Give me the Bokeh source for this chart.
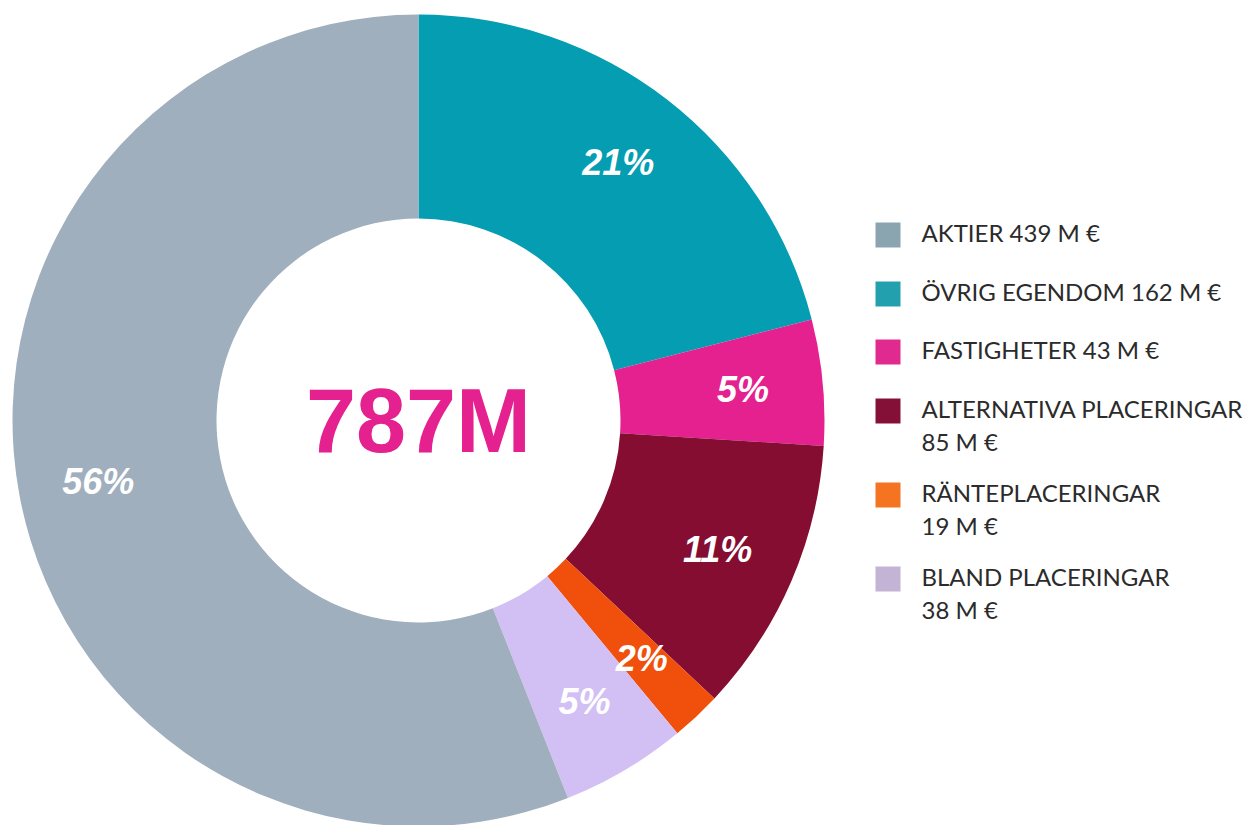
import numpy as np
from bokeh.plotting import figure
from bokeh.models import Range1d, ColumnDataSource
from bokeh.core.properties import value
from bokeh.embed import file_html
from bokeh.resources import INLINE

# --- data ---
categories = ["ÖVRIG EGENDOM", "FASTIGHETER", "ALTERNATIVA PLACERINGAR",
              "RÄNTEPLACERINGAR", "BLAND PLACERINGAR", "AKTIER"]
values_m = [162, 43, 85, 19, 38, 439]
pct_values = [21, 5, 11, 2, 5, 56]
pct_labels = ["21%", "5%", "11%", "2%", "5%", "56%"]
slice_colors = ["#049DB2", "#E4218E", "#850D31", "#F0500C", "#D2C0F4", "#9FAFBE"]
total_label = "787M"

legend_texts = ["AKTIER 439 M €", "ÖVRIG EGENDOM 162 M €", "FASTIGHETER 43 M €",
                "ALTERNATIVA PLACERINGAR\n85 M €", "RÄNTEPLACERINGAR\n19 M €",
                "BLAND PLACERINGAR\n38 M €"]
legend_colors = ["#8BA5B0", "#22A0AE", "#E02A90", "#851037", "#F47421", "#C3B3D5"]

W, H = 1245, 825
p = figure(width=W, height=H, output_backend="svg", toolbar_location=None,
           x_range=Range1d(0, W), y_range=Range1d(0, H), min_border=0)
p.axis.visible = False
p.grid.visible = False
p.outline_line_color = None
p.background_fill_color = "white"
p.border_fill_color = "white"

cx, cy = 418, H - 420
r_out, r_in, r_lab = 406, 202, 326

vals = np.array(pct_values, dtype=float)
frac = vals / vals.sum()
cum = np.cumsum(frac)
prev = np.concatenate([[0], cum[:-1]])
start = np.pi / 2 - prev * 2 * np.pi
end = np.pi / 2 - cum * 2 * np.pi
mid = (start + end) / 2

src = ColumnDataSource(dict(start=start, end=end, color=slice_colors,
                            lx=cx + r_lab * np.cos(mid), ly=cy + r_lab * np.sin(mid),
                            lab=pct_labels))
p.annular_wedge(x=cx, y=cy, inner_radius=r_in, outer_radius=r_out,
                start_angle="start", end_angle="end", direction="clock",
                fill_color="color", line_color=None, source=src)
p.text(x="lx", y="ly", text="lab", source=src, text_color="white",
       text_font=value("Liberation Sans"), text_font_style="bold italic",
       text_font_size="36px", text_align="center", text_baseline="middle")

p.text(x=[cx], y=[cy], text=[total_label], text_color="#E4218E",
       text_font=value("Liberation Sans"), text_font_style="bold",
       text_font_size="90px", text_align="center", text_baseline="middle")

# legend
row_tops = [222, 281, 339, 398, 482, 566]
lsrc = ColumnDataSource(dict(
    sx=[887.5] * 6, sy=[H - (t + 12.5) for t in row_tops], color=legend_colors,
    tx=[921] * 6, ty=[H - (t - 5) for t in row_tops], txt=legend_texts))
p.rect(x="sx", y="sy", width=25, height=25, fill_color="color", line_color=None, source=lsrc)
p.text(x="tx", y="ty", text="txt", source=lsrc, text_color="#2B2B2B",
       text_font=value("Lato"), text_font_size="24px", text_align="left",
       text_baseline="top", text_line_height=1.17)

open("out.html", "w").write(file_html(p, INLINE))
